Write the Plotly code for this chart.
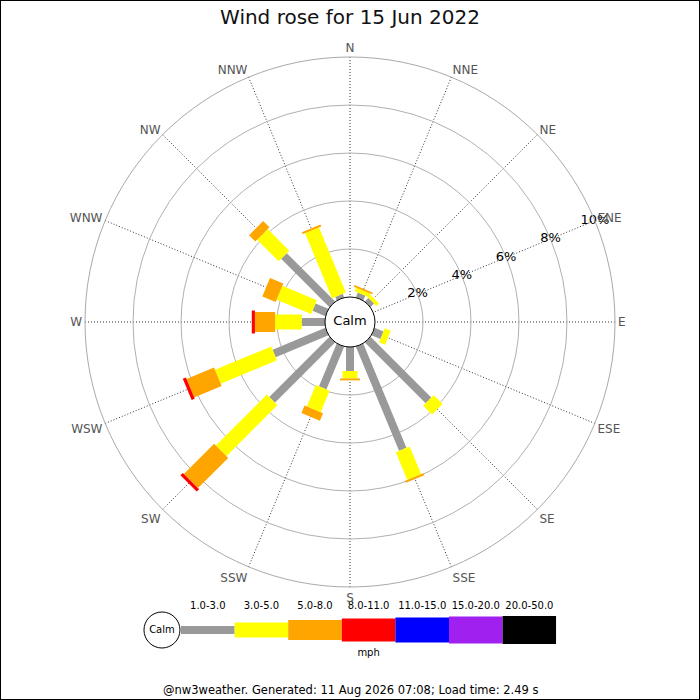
import plotly.graph_objects as go

# 16 compass points, clockwise from north
directions = ["N", "NNE", "NE", "ENE", "E", "ESE", "SE", "SSE",
              "S", "SSW", "SW", "WSW", "W", "WNW", "NW", "NNW"]

speed_bins = ["1.0-3.0", "3.0-5.0", "5.0-8.0", "8.0-11.0",
              "11.0-15.0", "15.0-20.0", "20.0-50.0"]

# % of the day in each speed bin, per direction (N .. NNW)
pct_1_3   = [0, 0.22, 0.21, 0, 0, 0.40, 3.58, 4.70, 1.00, 1.93, 3.55, 2.38, 0.97, 0.58, 2.85, 0.16]
pct_3_5   = [0, 0.16, 0.15, 0, 0, 0.27, 0.52, 1.25, 0.31, 0.97, 3.00, 2.54, 1.11, 1.56, 1.27, 2.94]
pct_5_8   = [0, 0.07, 0, 0, 0, 0, 0, 0.09, 0.08, 0.34, 1.78, 1.24, 0.84, 0.60, 0.37, 0.08]
pct_8_11  = [0, 0, 0, 0, 0, 0, 0, 0, 0, 0, 0.14, 0.14, 0.13, 0, 0, 0]
pct_11_15 = [0, 0, 0, 0, 0, 0, 0, 0, 0, 0, 0, 0, 0, 0, 0, 0]
pct_15_20 = [0, 0, 0, 0, 0, 0, 0, 0, 0, 0, 0, 0, 0, 0, 0, 0]
pct_20_50 = [0, 0, 0, 0, 0, 0, 0, 0, 0, 0, 0, 0, 0, 0, 0, 0]

ring_vals = [2, 4, 6, 8, 10]
ring_text = ["2%", "4%", "6%", "8%", "10%"]
ring_dir = "ENE"            # spoke the ring labels sit on

title = "Wind rose for 15 Jun 2022"
footer = "@nw3weather. Generated: 11 Aug 2026 07:08; Load time: 2.49 s"

# styling
colours = ["#999999", "#ffff00", "#ffa500", "#ff0000", "#0000ff", "#a020f0", "#000000"]
widths = [8, 15, 20, 23, 25, 27, 28]
FONT = "DejaVu Sans"
W = H = 700
cx, cy, R = 350, 322, 265   # rose centre / outer radius in px
calm_px = 25                # radius of calm circle
rmax = 10
rmin = -calm_px * rmax / (R - calm_px)

# key: segments start at x=181px, each 53.6px wide, calm bubble to the left
key_x0, key_seg = 181, 53.6
key_left = 143
key_lo = -(key_x0 - key_left) / key_seg

rose = [pct_1_3, pct_3_5, pct_5_8, pct_8_11, pct_11_15, pct_15_20, pct_20_50]

fig = go.Figure()

# stacked bars drawn as thick butt-ended segments
base = [0.0] * len(directions)
for k, vals in enumerate(rose):
    r, th = [], []
    for i, (d, v) in enumerate(zip(directions, vals)):
        if v > 0:
            r += [base[i], base[i] + v, None]
            th += [d, d, None]
            base[i] += v
    if r:
        fig.add_trace(go.Scatterpolar(
            r=r, theta=th, mode="lines", connectgaps=False,
            line=dict(color=colours[k], width=widths[k]),
            hoverinfo="skip", showlegend=False))

# ring labels, centred on the spoke
fig.add_trace(go.Scatterpolar(
    r=ring_vals, theta=[ring_dir] * len(ring_vals), mode="text", text=ring_text,
    textposition="middle center", cliponaxis=False,
    textfont=dict(family=FONT, size=13, color="black"),
    hoverinfo="skip", showlegend=False))

# calm circle in the middle
fig.add_trace(go.Scatterpolar(
    r=[rmin], theta=["N"], mode="markers+text", text=["Calm"],
    textposition="middle center", cliponaxis=False,
    textfont=dict(family=FONT, size=13, color="black"),
    marker=dict(size=2 * calm_px, color="white", line=dict(color="black", width=1)),
    hoverinfo="skip", showlegend=False))

# speed key along the bottom
for k, lab in enumerate(speed_bins):
    fig.add_trace(go.Scatter(
        x=[k, k + 1], y=[0.5, 0.5], mode="lines",
        line=dict(color=colours[k], width=widths[k]),
        hoverinfo="skip", showlegend=False))
fig.add_trace(go.Scatter(
    x=[k + 0.5 for k in range(len(speed_bins))], y=[0.83] * len(speed_bins),
    mode="text", text=speed_bins, cliponaxis=False,
    textfont=dict(family=FONT, size=10, color="black"),
    hoverinfo="skip", showlegend=False))
fig.add_trace(go.Scatter(
    x=[3.5], y=[0.16], mode="text", text=["mph"], cliponaxis=False,
    textfont=dict(family=FONT, size=10, color="black"),
    hoverinfo="skip", showlegend=False))
fig.add_trace(go.Scatter(
    x=[-0.355], y=[0.5], mode="markers+text", text=["Calm"],
    textposition="middle center", cliponaxis=False,
    textfont=dict(family=FONT, size=10, color="black"),
    marker=dict(size=36, color="white", line=dict(color="black", width=1)),
    hoverinfo="skip", showlegend=False))

fig.update_layout(
    width=W, height=H,
    margin=dict(l=0, r=0, t=0, b=0),
    paper_bgcolor="white", plot_bgcolor="white",
    font=dict(family=FONT),
    title=dict(text=title, x=0.5, xanchor="center", y=1 - 17 / H, yanchor="middle",
               font=dict(family=FONT, size=20, color="#111")),
    polar=dict(
        domain=dict(x=[(cx - R) / W, (cx + R) / W],
                    y=[(H - cy - R) / H, (H - cy + R) / H]),
        bgcolor="white",
        angularaxis=dict(
            type="category", categoryarray=directions,
            rotation=90, direction="clockwise",
            showgrid=True, gridcolor="#333", griddash="1px,2px", gridwidth=1,
            showline=True, linecolor="#aaaaaa", linewidth=1,
            ticks="", tickfont=dict(family=FONT, size=12, color="#555")),
        radialaxis=dict(
            range=[rmin, rmax], angle=22.5,
            tickvals=ring_vals, showticklabels=False,
            showline=False, ticks="",
            gridcolor="#b0b0b0", gridwidth=1),
    ),
    xaxis=dict(domain=[key_left / W, (key_x0 + 7 * key_seg) / W], range=[key_lo, 7],
               visible=False, fixedrange=True),
    yaxis=dict(domain=[35 / H, 105 / H], range=[0, 1], visible=False, fixedrange=True),
    shapes=[dict(type="rect", xref="paper", yref="paper", x0=0, x1=1, y0=0, y1=1,
                 line=dict(color="black", width=2))],
    annotations=[dict(text=footer, xref="paper", yref="paper", x=0.5, y=10 / H,
                      xanchor="center", yanchor="middle", showarrow=False,
                      font=dict(family=FONT, size=11.5, color="black"))],
)

fig.write_html("out.html", config={"displayModeBar": False},
               post_script="document.body.style.margin='0';")
